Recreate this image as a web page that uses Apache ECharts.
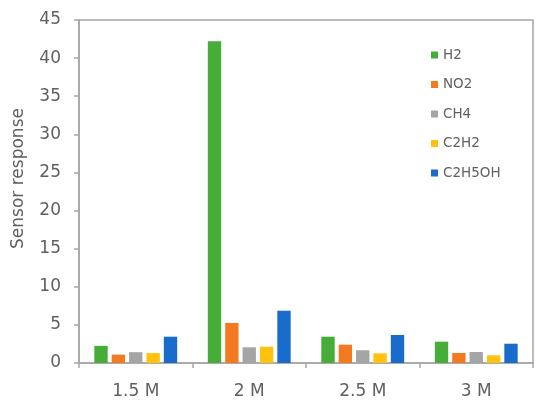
<!DOCTYPE html>
<html>
<head>
<meta charset="utf-8">
<script src="https://cdn.jsdelivr.net/npm/echarts@6/dist/echarts.min.js"></script>
<style>
html, body { margin: 0; padding: 0; background: #fff; }
#chart { width: 550px; height: 409px; }
</style>
</head>
<body>
<div id="chart"></div>
<script>
const categories = ['1.5 M', '2 M', '2.5 M', '3 M']
const gasNames = ['H2', 'NO2', 'CH4', 'C2H2', 'C2H5OH']
const h2 = [2.25, 42.2, 3.45, 2.8]
const no2 = [1.1, 5.25, 2.4, 1.31]
const ch4 = [1.42, 2.06, 1.67, 1.44]
const c2h2 = [1.3, 2.14, 1.27, 1.01]
const c2h5oh = [3.45, 6.86, 3.67, 2.53]
const colors = ['#45ad38', '#f47a22', '#a5a5a5', '#ffc20e', '#1a6ccc']

const myChart = echarts.init(document.getElementById('chart'))
const values = [h2, no2, ch4, c2h2, c2h5oh]
const textColor = '#606060'
const lineColor = '#a6a6a6'
const font = 'DejaVu Sans'

const option = {
    animation: false,
    textStyle: { fontFamily: font },
    grid: {
        left: 79, right: 17, top: 20, bottom: 46,
        show: true,
        borderColor: lineColor,
        borderWidth: 1.5
    },
    legend: {
        orient: 'vertical',
        left: 426,
        top: 43,
        itemWidth: 7,
        itemHeight: 7,
        itemGap: 15.5,
        icon: 'rect',
        textStyle: { color: textColor, fontSize: 13.5, fontFamily: font },
        data: gasNames
    },
    xAxis: {
        type: 'category',
        data: categories,
        axisLine: { lineStyle: { color: lineColor, width: 1.5 } },
        axisTick: { show: true, length: 5, lineStyle: { color: lineColor, width: 1.5 } },
        axisLabel: { color: textColor, fontSize: 17, margin: 20 }
    },
    yAxis: {
        type: 'value',
        min: 0,
        max: 45,
        interval: 5,
        name: 'Sensor response',
        nameLocation: 'middle',
        nameGap: 52,
        nameTextStyle: { color: textColor, fontSize: 17, padding: [0, 0, 0, 26] },
        axisLine: { show: true, lineStyle: { color: lineColor, width: 1.5 } },
        axisTick: { show: true, length: 5, lineStyle: { color: lineColor, width: 1.5 } },
        axisLabel: { color: textColor, fontSize: 17, margin: 18 },
        splitLine: { show: false }
    },
    series: gasNames.map((name, i) => ({
        name: name,
        type: 'bar',
        data: values[i],
        itemStyle: { color: colors[i] },
        barGap: '30%',
        barCategoryGap: '27%'
    }))
}

myChart.setOption(option)
</script>
</body>
</html>
